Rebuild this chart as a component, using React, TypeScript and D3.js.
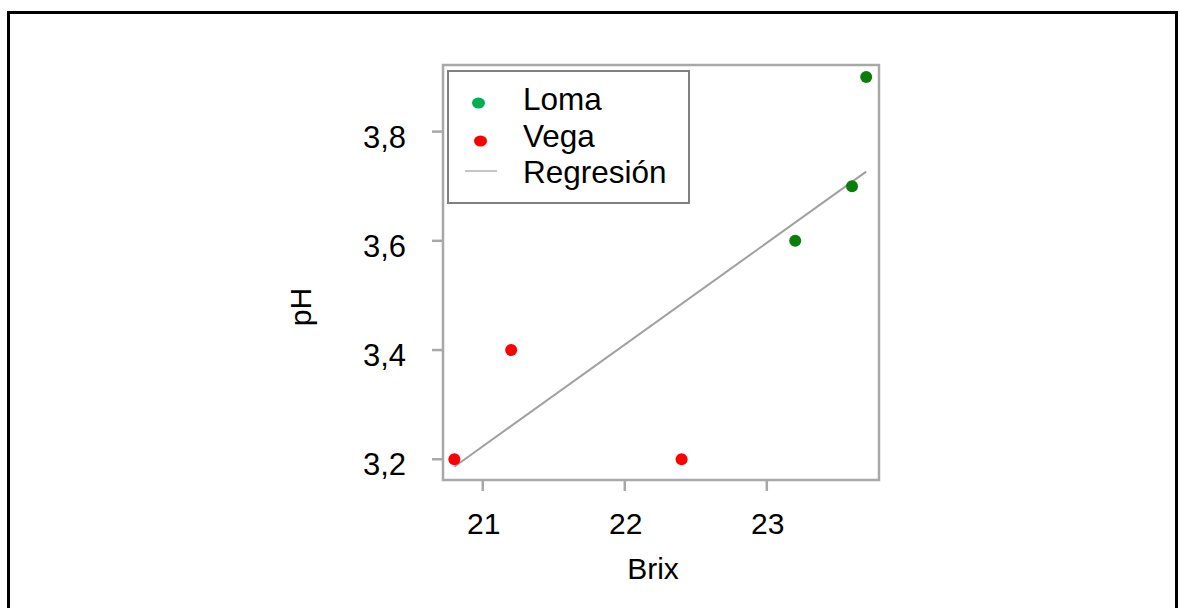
import React from 'react';
import * as d3 from 'd3';

// Brix / pH readings for each site
const lomaBrix = [23.7, 23.6, 23.2];
const lomaPH = [3.9, 3.7, 3.6];
const vegaBrix = [20.8, 21.2, 22.4];
const vegaPH = [3.2, 3.4, 3.2];

const xTicks = [21, 22, 23];
const yTicks = [3.2, 3.4, 3.6, 3.8];
const legendLabels = ['Loma', 'Vega', 'Regresión'];

const W = 1178;
const H = 608;
const FONT = '"Liberation Sans", Arial, sans-serif';

const plot = { left: 443, top: 65, right: 879, bottom: 480 };

const App = () => {
  const x = d3.scaleLinear().domain([20.72, 23.79]).range([plot.left, plot.right]);
  const y = d3.scaleLinear().domain([3.162, 3.922]).range([plot.bottom, plot.top]);

  const loma = lomaBrix.map((b, i) => ({ b, p: lomaPH[i] }));
  const vega = vegaBrix.map((b, i) => ({ b, p: vegaPH[i] }));
  const all = loma.concat(vega);

  // least squares fit over all points
  const mx = d3.mean(all, d => d.b);
  const my = d3.mean(all, d => d.p);
  const slope = d3.sum(all, d => (d.b - mx) * (d.p - my)) / d3.sum(all, d => (d.b - mx) ** 2);
  const [x0, x1] = d3.extent(all, d => d.b);
  const fit = [x0, x1].map(b => [x(b), y(my + slope * (b - mx))]);
  const line = d3.line()(fit);

  const fmt = v => d3.format('.1f')(v).replace('.', ',');

  return (
    <svg width={W} height={H} style={{ position: 'absolute', left: 0, top: 0, background: '#fff' }}
      fontFamily={FONT}>
      {/* outer frame */}
      <path d={`M8.5,${H} V12.5 H1176.5 V${H}`} fill="none" stroke="#000" strokeWidth={3} />

      {/* plot frame */}
      <rect x={plot.left} y={plot.top} width={plot.right - plot.left} height={plot.bottom - plot.top}
        fill="none" stroke="#a8a8a8" strokeWidth={2.5} />

      {/* y axis */}
      {yTicks.map(t => (
        <g key={t}>
          <line x1={plot.left - 11} x2={plot.left} y1={y(t)} y2={y(t)} stroke="#a8a8a8" strokeWidth={2.5} />
          <text x={406} y={y(t) + 8} textAnchor="end" dominantBaseline="middle" fontSize={31}>{fmt(t)}</text>
        </g>
      ))}

      {/* x axis */}
      {xTicks.map(t => (
        <g key={t}>
          <line x1={x(t)} x2={x(t)} y1={plot.bottom} y2={plot.bottom + 11} stroke="#a8a8a8" strokeWidth={2.5} />
          <text x={x(t) + 1} y={526} textAnchor="middle" dominantBaseline="middle" fontSize={30}>{t}</text>
        </g>
      ))}

      <text x={653} y={571} textAnchor="middle" dominantBaseline="middle" fontSize={30}>Brix</text>
      <text transform="translate(303,307) rotate(-90)" textAnchor="middle" dominantBaseline="middle"
        fontSize={30}>pH</text>

      {/* regression */}
      <path d={line} fill="none" stroke="#a0a0a0" strokeWidth={2} />

      {vega.map((d, i) => (
        <circle key={'v' + i} cx={x(d.b)} cy={y(d.p)} r={6} fill="#ff0000" />
      ))}
      {loma.map((d, i) => (
        <circle key={'l' + i} cx={x(d.b)} cy={y(d.p)} r={6} fill="#0a7d0a" />
      ))}

      {/* legend */}
      <rect x={448} y={71} width={241} height={132} fill="#fff" stroke="#808080" strokeWidth={2} />
      <ellipse cx={478.5} cy={103} rx={6.5} ry={5.5} fill="#00b050" />
      <ellipse cx={480.5} cy={141} rx={6.5} ry={5.5} fill="#ff0000" />
      <line x1={465} x2={497} y1={171} y2={171} stroke="#b0b0b0" strokeWidth={1.5} />
      {legendLabels.map((l, i) => (
        <text key={l} x={523} y={102 + i * 36.5} dominantBaseline="middle" fontSize={31.5}>{l}</text>
      ))}
    </svg>
  );
};

export default App;
